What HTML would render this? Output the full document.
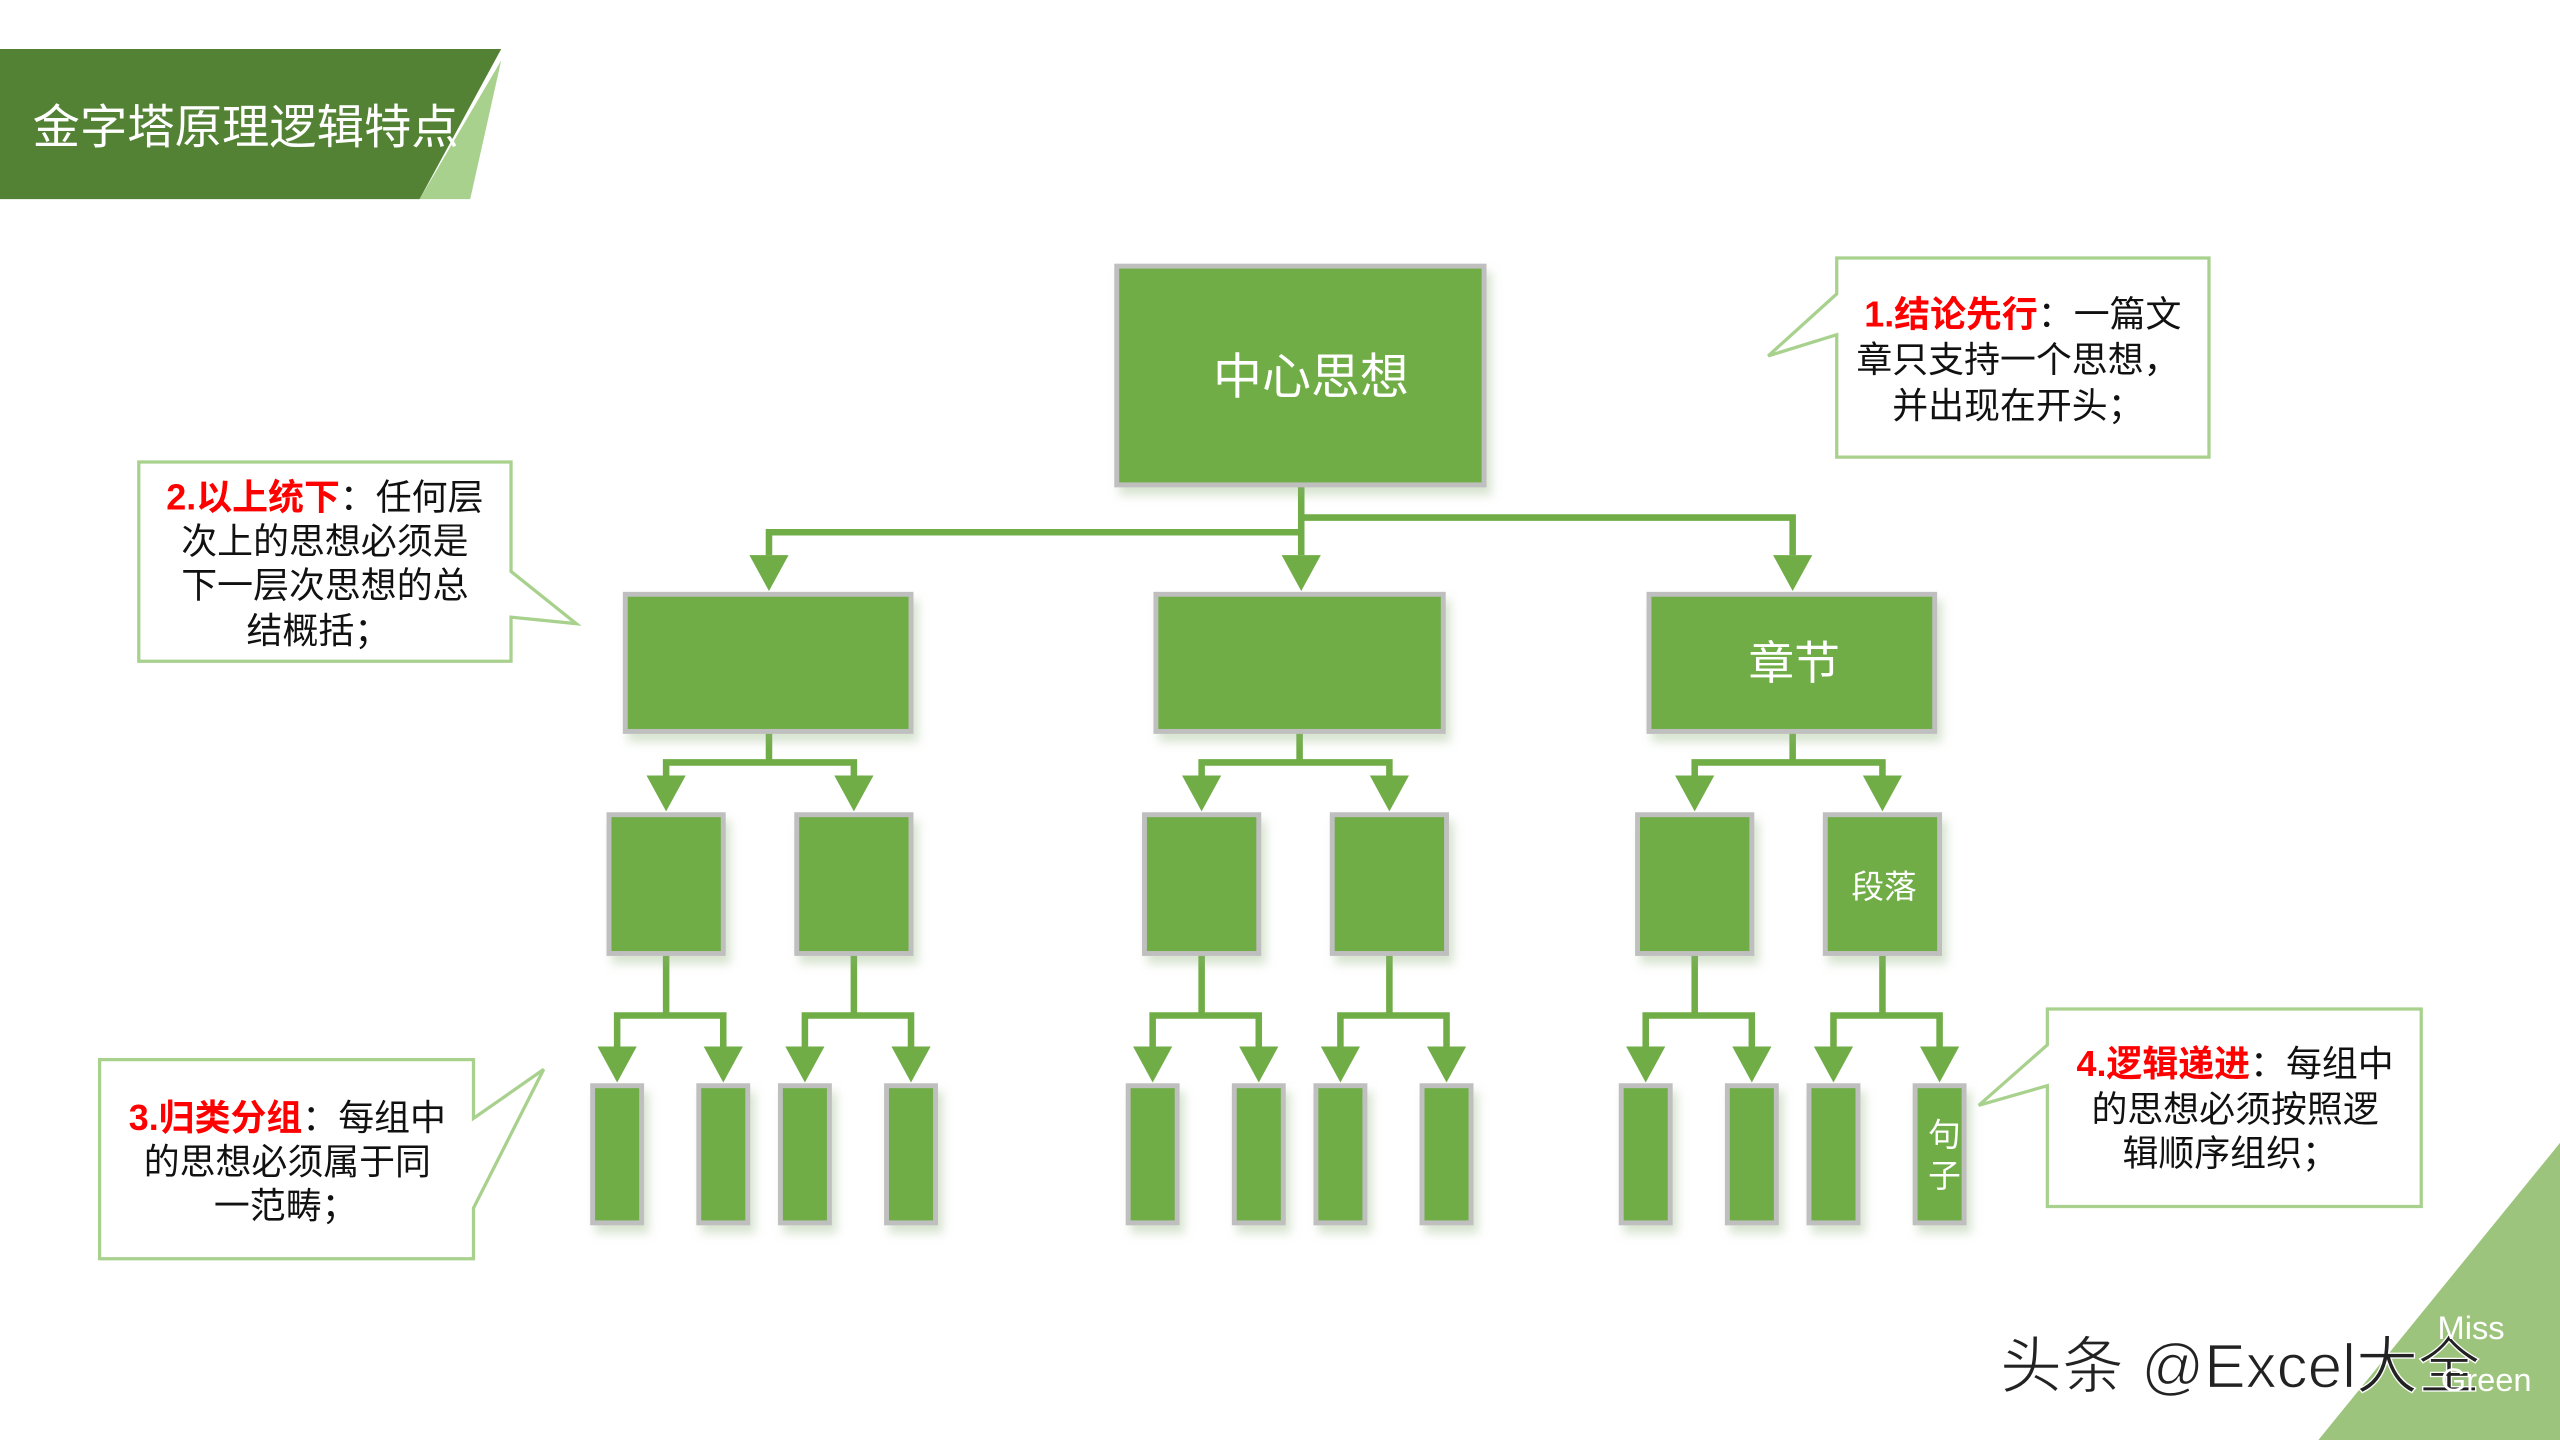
<!DOCTYPE html>
<html><head><meta charset="utf-8"><style>
html,body{margin:0;padding:0;background:#fff;width:2560px;height:1440px;overflow:hidden}
svg{display:block}
text{font-family:"Liberation Sans","Noto Sans CJK SC",sans-serif}
</style></head><body>
<svg width="2560" height="1440" viewBox="0 0 1568 882" preserveAspectRatio="none" xmlns="http://www.w3.org/2000/svg">
<defs>
<filter id="sh" x="-20%" y="-20%" width="150%" height="150%">
<feDropShadow dx="3" dy="5" stdDeviation="3" flood-color="#8fb07a" flood-opacity="0.35"/>
</filter>
</defs>
<!-- title banner -->
<polygon points="0,30 307,30 257,122 0,122" fill="#548235"/>
<polygon points="307,37 288,122 257,122" fill="#a9d18e"/>
<text x="20" y="88" font-size="29" fill="#fff">金字塔原理逻辑特点</text>

<!-- bottom-right triangle -->
<polygon points="1568,700 1568,882 1420,882" fill="#9dc47c"/>

<!-- connectors -->
<g stroke="#70ad47" stroke-width="4" fill="none">
<path d="M797 297V340M471 340V326H797M797 317H1098V340"/>
<path d="M471 448V467M408 475V467H523V475M796 448V467M736 475V467H851V475M1098 448V467M1038 475V467H1153V475"/>
<path d="M408 584V622M378 641V622H443V641M523 584V622M493 641V622H558V641M736 584V622M706 641V622H771V641M851 584V622M821 641V622H886V641M1038 584V622M1008 641V622H1073V641M1153 584V622M1123 641V622H1188V641"/>
</g>
<g fill="#70ad47">
<polygon points="459,340 483,340 471,362"/><polygon points="785,340 809,340 797,362"/><polygon points="1086,340 1110,340 1098,362"/>
<polygon points="396,475 420,475 408,497"/><polygon points="511,475 535,475 523,497"/>
<polygon points="724,475 748,475 736,497"/><polygon points="839,475 863,475 851,497"/>
<polygon points="1026,475 1050,475 1038,497"/><polygon points="1141,475 1165,475 1153,497"/>
<polygon points="366,641 390,641 378,663"/><polygon points="431,641 455,641 443,663"/><polygon points="481,641 505,641 493,663"/><polygon points="546,641 570,641 558,663"/>
<polygon points="694,641 718,641 706,663"/><polygon points="759,641 783,641 771,663"/><polygon points="809,641 833,641 821,663"/><polygon points="874,641 898,641 886,663"/>
<polygon points="996,641 1020,641 1008,663"/><polygon points="1061,641 1085,641 1073,663"/><polygon points="1111,641 1135,641 1123,663"/><polygon points="1176,641 1200,641 1188,663"/>
</g>

<!-- boxes -->
<g fill="#70ad47" stroke="#bfbfbf" stroke-width="3" filter="url(#sh)">
<rect x="684" y="163" width="225" height="134"/>
<rect x="383" y="364" width="175" height="84"/>
<rect x="708" y="364" width="176" height="84"/>
<rect x="1010" y="364" width="175" height="84"/>
<rect x="373" y="499" width="70" height="85"/><rect x="488" y="499" width="70" height="85"/>
<rect x="701" y="499" width="70" height="85"/><rect x="816" y="499" width="70" height="85"/>
<rect x="1003" y="499" width="70" height="85"/><rect x="1118" y="499" width="70" height="85"/>
<rect x="363" y="665" width="30" height="84"/><rect x="428" y="665" width="30" height="84"/><rect x="478" y="665" width="30" height="84"/><rect x="543" y="665" width="30" height="84"/>
<rect x="691" y="665" width="30" height="84"/><rect x="756" y="665" width="30" height="84"/><rect x="806" y="665" width="30" height="84"/><rect x="871" y="665" width="30" height="84"/>
<rect x="993" y="665" width="30" height="84"/><rect x="1058" y="665" width="30" height="84"/><rect x="1108" y="665" width="30" height="84"/><rect x="1173" y="665" width="30" height="84"/>
</g>
<g fill="#fff" text-anchor="middle">
<text x="803" y="241" font-size="30">中心思想</text>
<text x="1099" y="416" font-size="28">章节</text>
<text x="1154" y="550" font-size="20">段落</text>
<text x="1191" y="702" font-size="20">句</text>
<text x="1191" y="727" font-size="20">子</text>
</g>

<!-- callouts -->
<g fill="#fff" stroke="#a9d18e" stroke-width="2">
<path d="M1125 158H1353V280H1125V205L1083 218L1125 180Z"/>
<path d="M85 283H313V350L353 382L313 378V405H85Z"/>
<path d="M61 649H290V685L333 655L290 740V771H61Z"/>
<path d="M1254 618H1483V739H1254V665L1212 677L1254 640Z"/>
</g>
<g font-size="22" fill="#111" text-anchor="middle">
<text x="1239" y="200"><tspan fill="#ff0000" font-weight="bold">1.结论先行</tspan>：一篇文</text>
<text x="1236" y="228">章只支持一个思想，</text>
<text x="1236" y="256">并出现在开头；</text>
<text x="199" y="312"><tspan fill="#ff0000" font-weight="bold">2.以上统下</tspan>：任何层</text>
<text x="199" y="339">次上的思想必须是</text>
<text x="199" y="366">下一层次思想的总</text>
<text x="195" y="394">结概括；</text>
<text x="176" y="692"><tspan fill="#ff0000" font-weight="bold">3.归类分组</tspan>：每组中</text>
<text x="176" y="719">的思想必须属于同</text>
<text x="175" y="746">一范畴；</text>
<text x="1369" y="659"><tspan fill="#ff0000" font-weight="bold">4.逻辑递进</tspan>：每组中</text>
<text x="1369" y="687">的思想必须按照逻</text>
<text x="1366" y="714">辑顺序组织；</text>
</g>

<!-- watermark -->
<text x="1225" y="850" font-size="38" fill="#222" stroke="#fff" stroke-width="0.8">头条 @Excel大全</text>
<text x="1493" y="820" font-size="20" fill="#fff" font-family="Liberation Mono">Miss</text>
<text x="1495" y="852" font-size="20" fill="#fff" font-family="Liberation Mono">Green</text>
</svg>
</body></html>
